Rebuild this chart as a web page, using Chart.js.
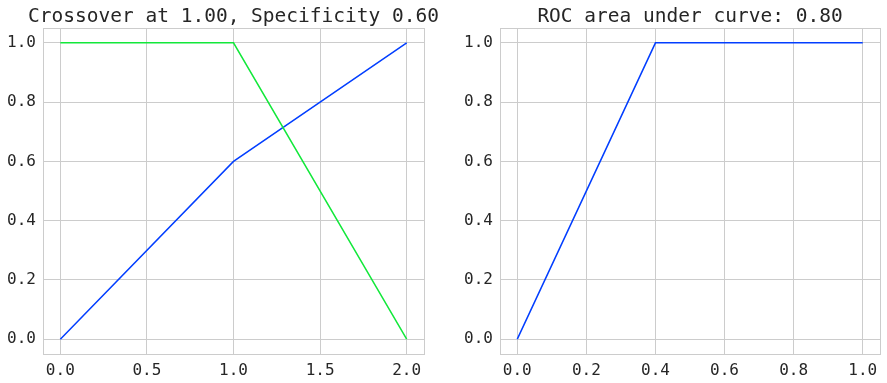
<!DOCTYPE html>
<html>
<head>
<meta charset="utf-8">
<script src="https://cdn.jsdelivr.net/npm/chart.js@4/dist/chart.umd.min.js"></script>
<style>
  body { margin: 0; background: #fff; }
  .box { position: absolute; top: 0; height: 383px; }
</style>
</head>
<body>
<div class="box" style="left:0;width:440px"><canvas id="left"></canvas></div>
<div class="box" style="left:440px;width:447px"><canvas id="right"></canvas></div>
<script>
// left panel: crossover of the two curves
var thresholds = [0, 1, 2]
var specificity = [1.0, 1.0, 0.0]
var sensitivity = [0.0, 0.6, 1.0]
var leftXTicks = [0, 0.5, 1.0, 1.5, 2.0]

// right panel: ROC curve
var fpr = [0, 0.4, 1.0]
var tpr = [0, 1.0, 1.0]
var rightXTicks = [0, 0.2, 0.4, 0.6, 0.8, 1.0]

var yTicks = [0, 0.2, 0.4, 0.6, 0.8, 1.0]

var FONT = "'DejaVu Sans Mono', monospace"
var GRID = '#cccccc'

function pts(xs, ys) {
    return xs.map(function (x, i) { return { x: x, y: ys[i] } })
}

// box around the plot + title centred over the plot area (matplotlib style)
var frame = {
    id: 'frame',
    afterDraw: function (chart, args, opts) {
        var a = chart.chartArea, ctx = chart.ctx
        ctx.save()
        ctx.strokeStyle = GRID
        ctx.lineWidth = 1
        ctx.strokeRect(Math.round(a.left) + 0.5, Math.round(a.top) + 0.5,
            Math.round(a.right - a.left), Math.round(a.bottom - a.top))
        ctx.fillStyle = '#262626'
        ctx.font = '19.5px ' + FONT
        ctx.textAlign = 'center'
        ctx.textBaseline = 'alphabetic'
        ctx.fillText(opts.text, (a.left + a.right) / 2, 22)
        ctx.restore()
    }
}

function makeChart(id, title, datasets, xTicks, xmin, xmax, yWidth, padRight) {
    return new Chart(document.getElementById(id), {
        type: 'scatter',
        data: { datasets: datasets },
        plugins: [frame],
        options: {
            responsive: true,
            maintainAspectRatio: false,
            animation: false,
            layout: { padding: { right: padRight, left: 0, top: 28, bottom: 0 } },
            plugins: {
                legend: { display: false },
                tooltip: { enabled: false },
                title: { display: false },
                frame: { text: title }
            },
            scales: {
                x: {
                    type: 'linear',
                    min: xmin,
                    max: xmax,
                    afterBuildTicks: function (ax) {
                        ax.ticks = xTicks.map(function (v) { return { value: v } })
                    },
                    afterFit: function (ax) { ax.height = 29 },
                    grid: { color: GRID, drawTicks: false },
                    border: { color: GRID },
                    ticks: {
                        padding: 7,
                        color: '#262626',
                        font: { family: FONT, size: 16 },
                        callback: function (v) { return v.toFixed(1) }
                    }
                },
                y: {
                    type: 'linear',
                    min: -0.05,
                    max: 1.05,
                    afterBuildTicks: function (ax) {
                        ax.ticks = yTicks.map(function (v) { return { value: v } })
                    },
                    afterFit: function (ax) { ax.width = yWidth },
                    grid: { color: GRID, drawTicks: false },
                    border: { color: GRID },
                    ticks: {
                        padding: 7,
                        color: '#262626',
                        font: { family: FONT, size: 16 },
                        callback: function (v) { return v.toFixed(1) }
                    }
                }
            }
        }
    })
}

var lineStyle = { showLine: true, pointRadius: 0, borderWidth: 1.5, fill: false, tension: 0 }

makeChart('left', 'Crossover at 1.00, Specificity 0.60', [
    Object.assign({ data: pts(thresholds, specificity), borderColor: '#12e83a' }, lineStyle),
    Object.assign({ data: pts(thresholds, sensitivity), borderColor: '#023eff' }, lineStyle)
], leftXTicks, -0.1, 2.1, 43, 16)

makeChart('right', 'ROC area under curve: 0.80', [
    Object.assign({ data: pts(fpr, tpr), borderColor: '#023eff' }, lineStyle)
], rightXTicks, -0.05, 1.05, 60, 7)
</script>
</body>
</html>
